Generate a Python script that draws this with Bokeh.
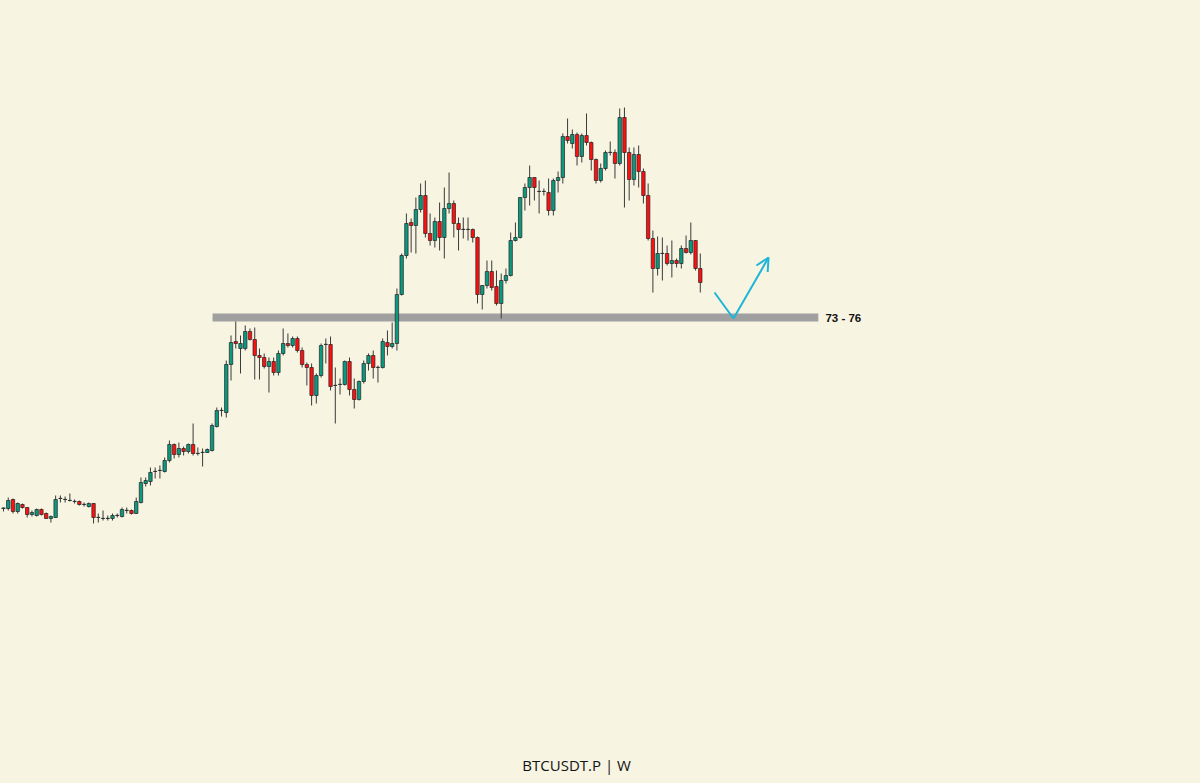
from bokeh.plotting import figure
from bokeh.models import Range1d, ColumnDataSource, Label, Arrow, OpenHead
from bokeh.embed import file_html
from bokeh.resources import INLINE

# Weekly BTCUSDT.P candles (price in thousand USD)
opens = [26.75, 26.75, 29.0, 26.0, 27.75, 27.0, 25.25, 25.0, 26.5, 25.5,
         24.25, 24.5, 29.25, 29.0, 28.75, 28.5, 28.5, 27.75, 27.25, 28.0,
         24.5, 24.25, 24.25, 24.25, 25.0, 24.75, 26.25, 26.25, 25.5, 28.25,
         33.0, 33.5, 36.0, 36.25, 36.0, 38.75, 42.75, 40.25, 41.75, 41.0,
         42.75, 40.5, 40.75, 40.75, 41.25, 47.25, 51.25, 50.75, 62.75, 68.5,
         66.75, 66.75, 71.0, 69.0, 65.0, 64.5, 62.25, 63.5, 60.75, 65.5,
         68.0, 67.5, 69.25, 66.25, 62.75, 62.0, 55.0, 60.0, 67.75, 67.75,
         57.5, 57.75, 57.75, 63.5, 56.5, 54.0, 58.5, 63.0, 65.0, 62.0,
         62.0, 68.25, 67.25, 68.0, 80.25, 90.0, 98.25, 97.5, 101.5, 105.0,
         95.5, 93.75, 98.5, 94.5, 101.75, 103.0, 98.0, 96.5, 96.5, 96.5,
         94.5, 80.25, 82.5, 86.0, 82.25, 78.0, 83.75, 85.0, 93.75, 94.5,
         104.5, 107.0, 109.5, 106.0, 106.0, 105.75, 101.25, 108.75, 109.5, 119.75,
         118.0, 120.25, 114.75, 120.0, 118.25, 114.0, 108.75, 111.75, 115.75, 115.75,
         113.0, 124.5, 115.75, 109.0, 115.25, 111.0, 105.0, 94.25, 86.75, 90.5,
         90.5, 88.0, 88.75, 88.0, 91.75, 90.75, 93.75, 86.75]
closes = [26.9, 28.75, 26.0, 28.0, 27.0, 25.25, 25.75, 26.5, 25.25, 24.25,
          24.75, 29.0, 29.3, 29.05, 28.8, 28.55, 27.75, 27.8, 28.0, 24.5,
          24.55, 24.3, 24.3, 25.0, 25.05, 26.5, 26.3, 25.5, 28.5, 33.25,
          33.75, 35.75, 36.05, 36.3, 38.75, 42.75, 40.25, 41.75, 41.0, 42.75,
          40.5, 40.55, 40.8, 41.5, 47.5, 51.25, 51.3, 62.75, 68.25, 68.0,
          68.0, 71.0, 69.0, 65.0, 64.5, 62.25, 63.5, 60.75, 65.5, 68.0,
          67.5, 69.25, 66.25, 62.75, 62.0, 55.0, 60.0, 67.5, 67.8, 57.25,
          57.55, 57.8, 63.5, 56.5, 54.0, 58.5, 63.0, 65.0, 62.0, 62.05,
          68.5, 67.25, 68.0, 80.25, 90.0, 98.0, 97.5, 101.5, 105.0, 95.5,
          93.75, 98.5, 94.5, 101.75, 103.0, 98.0, 96.5, 96.55, 96.55, 94.5,
          80.25, 82.5, 86.0, 82.0, 78.0, 83.75, 85.0, 93.75, 94.5, 104.5,
          107.0, 109.5, 107.0, 106.05, 106.05, 101.25, 108.75, 109.5, 119.75, 118.75,
          120.25, 114.75, 120.0, 118.25, 114.0, 108.75, 111.75, 115.75, 115.8, 113.0,
          124.5, 115.75, 109.0, 115.25, 111.0, 105.0, 94.25, 86.75, 90.5, 90.55,
          88.0, 88.75, 88.0, 91.75, 90.75, 93.75, 86.75, 83.25]
highs = [27.0, 29.5, 29.25, 28.25, 28.0, 27.1, 26.25, 26.75, 26.75, 25.75,
         25.0, 30.0, 30.0, 29.75, 30.5, 29.0, 28.75, 28.25, 28.25, 28.1,
         25.5, 26.25, 25.0, 25.5, 25.5, 27.0, 27.0, 26.5, 29.5, 34.5,
         34.5, 37.0, 37.0, 37.5, 39.5, 43.75, 43.0, 43.25, 42.25, 43.0,
         48.0, 42.0, 41.75, 41.75, 48.0, 52.0, 52.0, 63.75, 70.0, 73.5,
         70.0, 72.5, 71.75, 72.0, 66.75, 65.5, 64.5, 64.5, 66.25, 71.75,
         70.5, 69.75, 69.75, 67.0, 63.25, 63.0, 60.5, 68.0, 69.25, 69.75,
         62.0, 59.25, 63.75, 64.5, 59.25, 58.75, 63.75, 65.5, 66.25, 62.5,
         69.25, 71.25, 73.25, 81.75, 90.5, 100.5, 99.25, 104.5, 108.0, 108.75,
         100.5, 99.5, 103.25, 107.0, 110.75, 103.75, 99.5, 99.5, 99.5, 96.75,
         94.75, 82.6, 88.75, 88.75, 86.25, 85.5, 86.75, 95.75, 98.25, 104.6,
         108.0, 112.5, 109.6, 108.75, 106.75, 109.25, 109.25, 111.0, 120.5, 124.25,
         121.5, 120.75, 120.5, 125.5, 118.5, 114.25, 113.0, 116.25, 118.5, 116.5,
         126.75, 127.0, 117.0, 117.0, 117.5, 111.75, 108.0, 96.25, 94.75, 94.5,
         92.5, 93.75, 89.25, 92.5, 95.0, 98.25, 93.8, 90.5]
lows = [26.0, 26.25, 25.5, 25.5, 26.75, 24.5, 24.75, 24.75, 25.0, 24.2,
        23.25, 24.4, 28.25, 28.25, 28.5, 28.0, 27.5, 27.25, 27.0, 23.0,
        23.25, 23.75, 23.75, 23.75, 24.5, 24.5, 25.5, 25.25, 25.4, 28.0,
        32.25, 32.5, 34.25, 34.25, 35.75, 38.25, 39.25, 39.5, 40.0, 40.5,
        40.0, 40.0, 37.25, 40.7, 41.0, 47.0, 49.75, 49.5, 58.75, 66.75,
        60.5, 66.25, 68.75, 59.0, 59.0, 61.75, 55.75, 60.0, 60.0, 65.0,
        67.0, 67.0, 65.75, 62.0, 57.5, 52.5, 53.0, 59.5, 63.0, 56.25,
        48.0, 55.25, 57.5, 55.0, 51.75, 53.75, 58.0, 61.25, 59.25, 58.25,
        61.75, 65.0, 66.75, 66.25, 80.0, 89.25, 90.75, 90.5, 100.75, 94.5,
        92.5, 92.0, 91.25, 89.25, 100.5, 94.5, 91.25, 94.25, 93.75, 93.25,
        78.0, 76.5, 81.75, 81.25, 77.5, 74.25, 83.0, 84.75, 93.5, 94.25,
        101.25, 102.5, 103.75, 100.5, 105.0, 100.0, 100.0, 105.75, 108.0, 118.0,
        116.75, 112.5, 113.25, 117.5, 111.25, 108.0, 108.25, 111.25, 115.0, 109.25,
        112.5, 102.0, 103.75, 107.5, 107.0, 103.0, 93.75, 80.75, 85.0, 83.75,
        87.5, 84.5, 87.0, 86.75, 90.5, 90.25, 86.25, 80.75]

# Support zone (73k - 76k) and its label
zone_low = 73.5
zone_high = 75.5
zone_label = "73 - 76"
title_text = "BTCUSDT.P  |  W"

# Projected path (week offset, price)
path_x = [150.0, 154.0, 161.4]
path_y = [80.75, 74.25, 89.5]

BG = "#f7f4e2"
GREEN = "#0b9a7f"
RED = "#ff1010"
CYAN = "#1db6d9"

n = len(opens)
idx = list(range(n))
src = ColumnDataSource(dict(
    x=idx,
    top=[max(o, c) for o, c in zip(opens, closes)],
    bottom=[min(o, c) for o, c in zip(opens, closes)],
    high=highs, low=lows,
    color=[GREEN if c >= o else RED for o, c in zip(opens, closes)],
))

p = figure(width=1200, height=783, output_backend="svg", toolbar_location=None,
           x_range=Range1d(-0.633, 252.53), y_range=Range1d(-42.0, 153.75),
           background_fill_color=BG, border_fill_color=BG, min_border=0)
p.axis.visible = False
p.grid.visible = False
p.outline_line_color = None

# zone
p.quad(left=[44.1], right=[171.9], bottom=[zone_low], top=[zone_high],
       fill_color="#a0a0a0", line_color=None)

p.segment(x0="x", y0="high", x1="x", y1="low", source=src,
          line_color="#3a3a3a", line_width=1)
p.vbar(x="x", top="top", bottom="bottom", width=0.72, source=src,
       fill_color="color", line_color="#222222", line_width=0.7)

p.add_layout(Label(x=173.4, y=(zone_low + zone_high) / 2, text=zone_label,
                   text_font="Liberation Sans", text_font_style="bold",
                   text_font_size="11.5px", text_color="#111111",
                   text_baseline="middle", text_align="left"))

p.line(path_x[:2], path_y[:2], line_color=CYAN, line_width=2)
p.add_layout(Arrow(end=OpenHead(size=13, line_color=CYAN, line_width=2),
                   x_start=path_x[1], y_start=path_y[1],
                   x_end=path_x[2], y_end=path_y[2],
                   line_color=CYAN, line_width=2))

p.add_layout(Label(x=580, y=19, x_units="screen", y_units="screen",
                   text=title_text, text_font="Open Sans",
                   text_font_size="15px", text_color="#131313",
                   text_align="center", text_baseline="middle"))

html = file_html(p, INLINE, title="BTCUSDT.P")
html = html.replace("</head>", "<style>html,body{margin:0;padding:0;background:%s;overflow:hidden}</style></head>" % BG, 1)
open("out.html", "w").write(html)
